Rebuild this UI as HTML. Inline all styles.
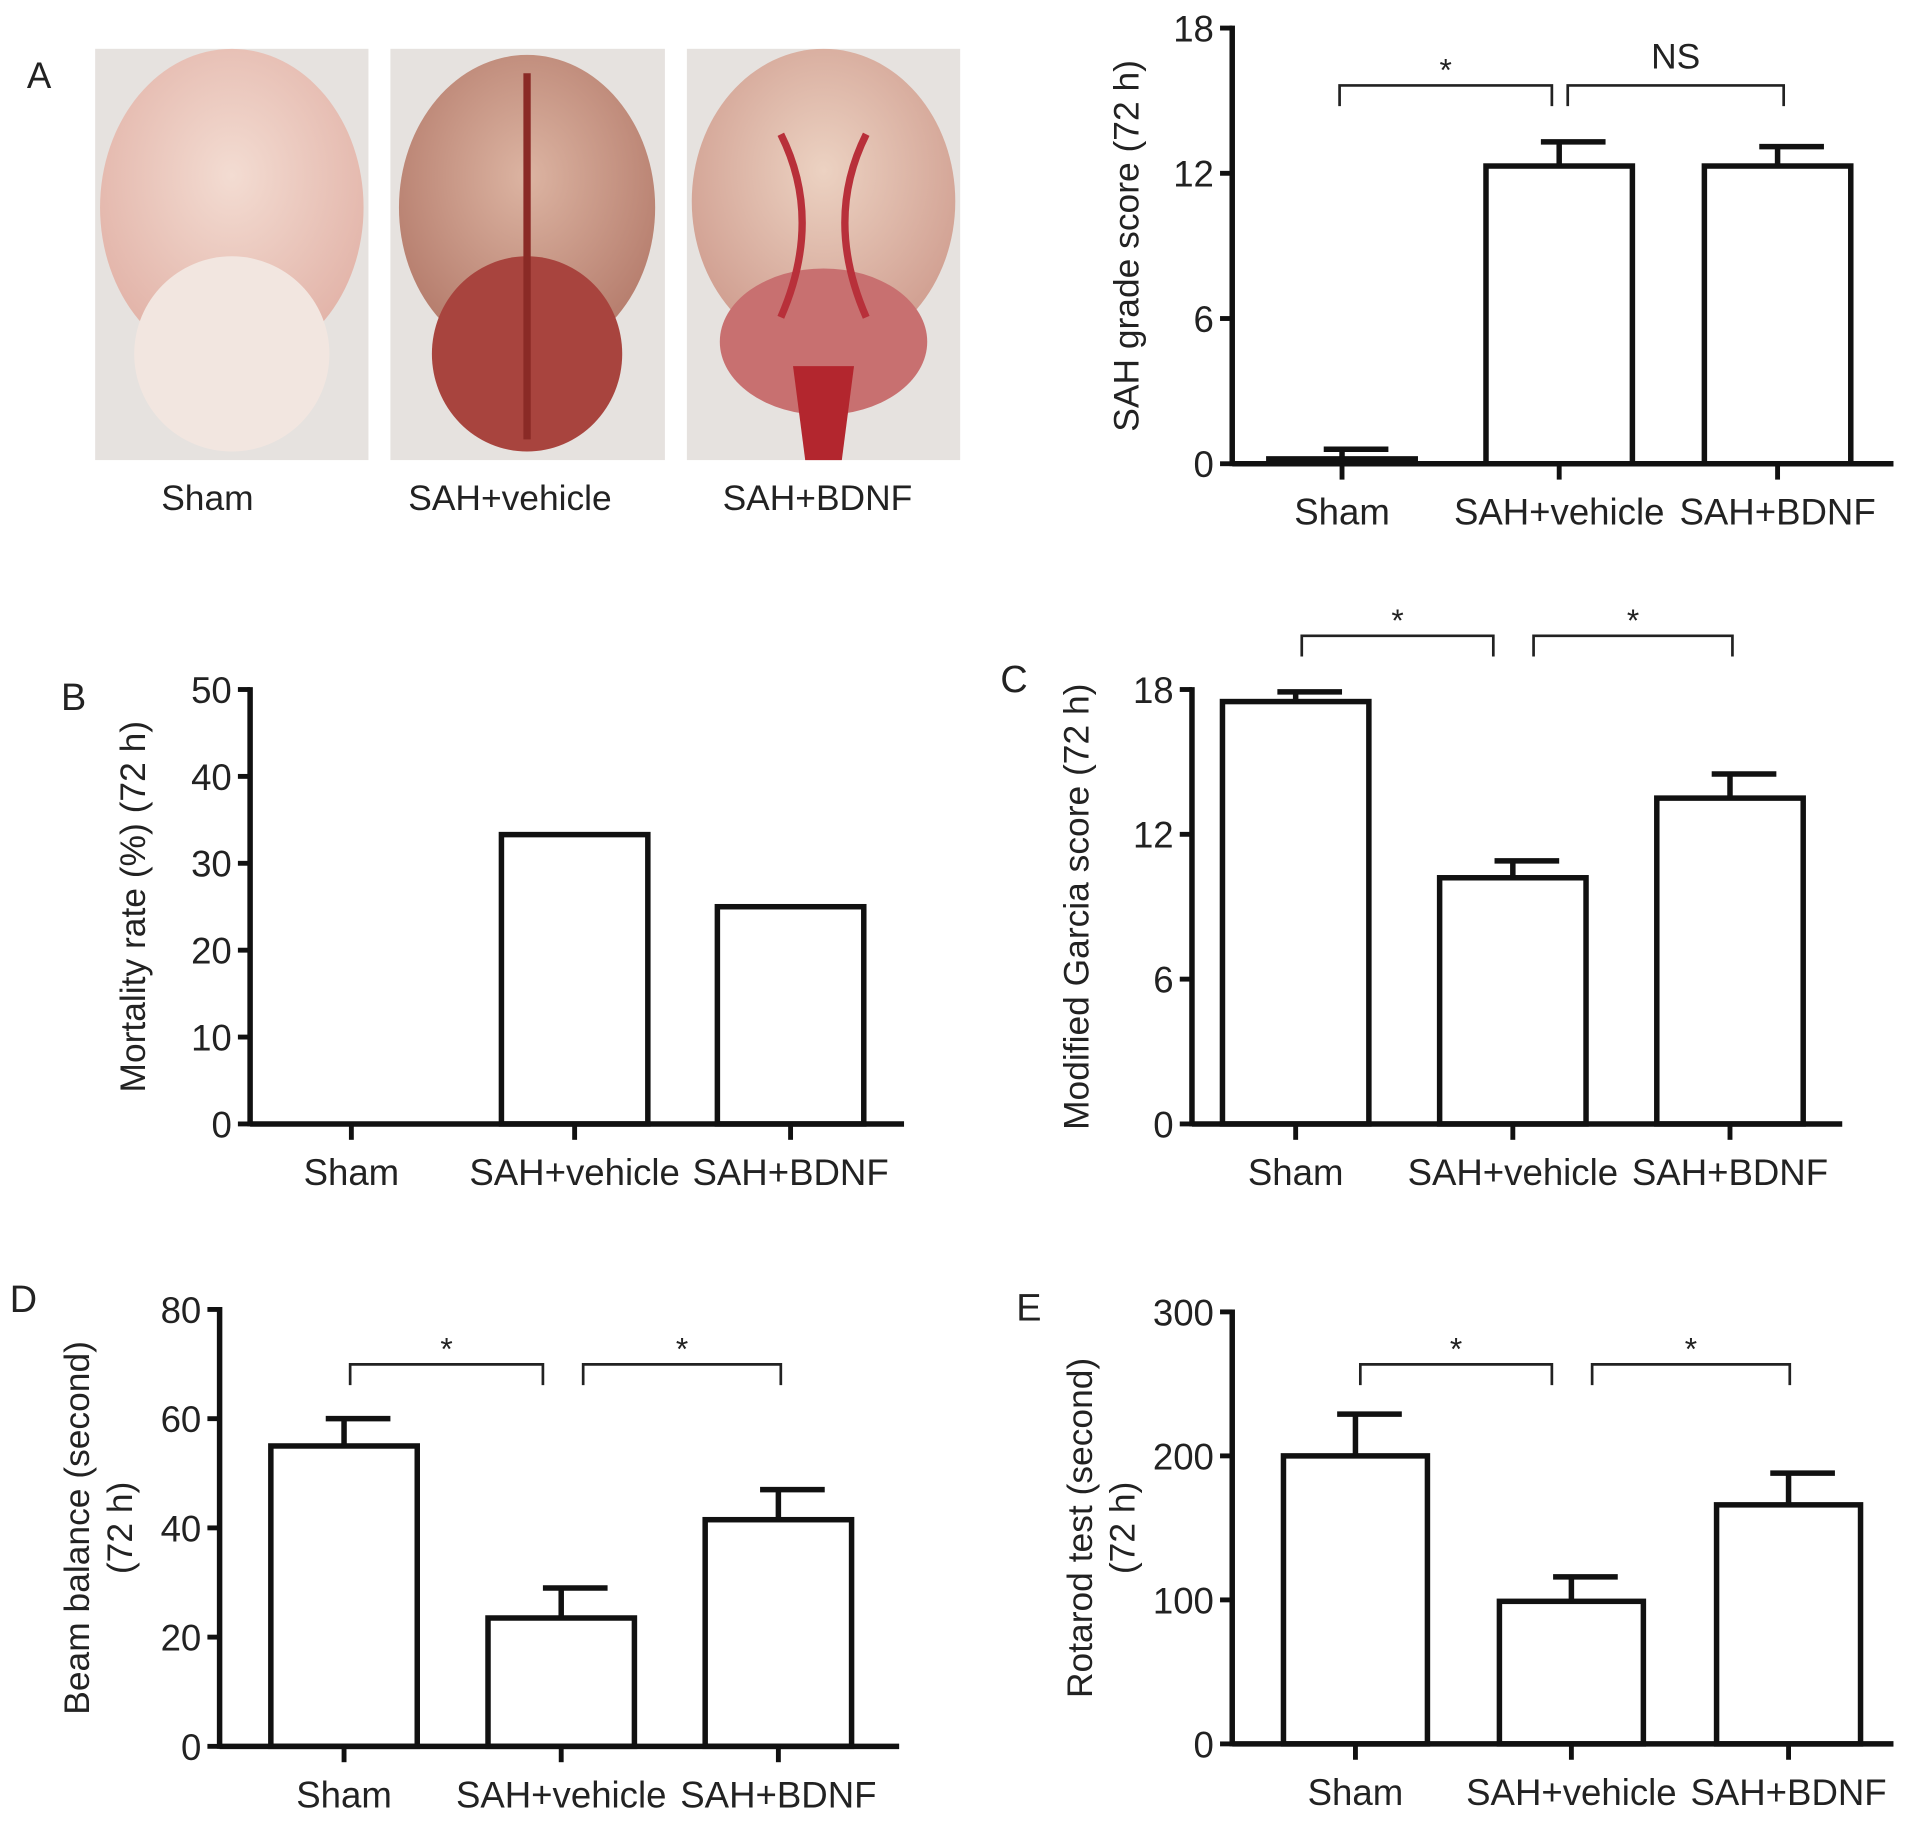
<!DOCTYPE html>
<html><head><meta charset="utf-8"><style>
html,body{margin:0;padding:0;background:#fff;}
svg{display:block;}
text{font-family:"Liberation Sans",Arial,sans-serif;fill:#222;}
</style></head><body>
<svg id="fig" width="1913" height="1822" viewBox="0 0 1568 1493" preserveAspectRatio="none" xmlns="http://www.w3.org/2000/svg">
<defs>
<radialGradient id="g1" cx="50%" cy="40%" r="60%"><stop offset="0" stop-color="#f3dcd2"/><stop offset="1" stop-color="#e2b3a8"/></radialGradient>
<radialGradient id="g2" cx="50%" cy="40%" r="60%"><stop offset="0" stop-color="#dcb4a2"/><stop offset="1" stop-color="#b57c6c"/></radialGradient>
<radialGradient id="g3" cx="50%" cy="40%" r="60%"><stop offset="0" stop-color="#ecd2c2"/><stop offset="1" stop-color="#d09e90"/></radialGradient>
</defs>
<g>
<text x="22" y="72" font-size="30">A</text>
<g>
<rect x="78" y="40" width="224" height="337" fill="#e6e2df"/>
<ellipse cx="190" cy="170" rx="108" ry="130" fill="url(#g1)"/>
<ellipse cx="190" cy="290" rx="80" ry="80" fill="#f2e6e0"/>
</g>
<g>
<rect x="320" y="40" width="225" height="337" fill="#e6e2df"/>
<ellipse cx="432" cy="170" rx="105" ry="125" fill="url(#g2)"/>
<ellipse cx="432" cy="290" rx="78" ry="80" fill="#a8443e"/>
<path d="M432 60 L432 360" stroke="#8a2a26" stroke-width="6"/>
</g>
<g>
<rect x="563" y="40" width="224" height="337" fill="#e6e2df"/>
<ellipse cx="675" cy="165" rx="108" ry="125" fill="url(#g3)"/>
<ellipse cx="675" cy="280" rx="85" ry="60" fill="#c87070"/>
<path d="M650 300 L700 300 L690 377 L660 377 Z" fill="#b3262e"/>
<path d="M640 110 Q675 180 640 260 M710 110 Q675 180 710 260" stroke="#b8303a" stroke-width="6" fill="none"/>
</g>
<text x="170" y="418" font-size="29" text-anchor="middle">Sham</text>
<text x="418" y="418" font-size="29" text-anchor="middle">SAH+vehicle</text>
<text x="670" y="418" font-size="29" text-anchor="middle">SAH+BDNF</text>
</g>
<text x="50" y="582" font-size="31">B</text>
<text x="820" y="567" font-size="31">C</text>
<text x="8" y="1075" font-size="31">D</text>
<text x="833" y="1082" font-size="31">E</text>
</svg>
<script>
const categories = ["Sham", "SAH+vehicle", "SAH+BDNF"];
const gradeValues = [0.2, 12.3, 12.3];
const gradeErrors = [0.6, 13.3, 13.1];
const gradeTicks = [0, 6, 12, 18];
const mortalityValues = [0, 33.3, 25];
const mortalityTicks = [0, 10, 20, 30, 40, 50];
const garciaValues = [17.5, 10.2, 13.5];
const garciaErrors = [17.9, 10.9, 14.5];
const garciaTicks = [0, 6, 12, 18];
const beamValues = [55, 23.5, 41.5];
const beamErrors = [60, 29, 47];
const beamTicks = [0, 20, 40, 60, 80];
const rotarodValues = [200, 99, 166];
const rotarodErrors = [229, 116, 188];
const rotarodTicks = [0, 100, 200, 300];

const NS = "http://www.w3.org/2000/svg";
const svg = document.getElementById("fig");
function mk(tag, attrs, parent, txt) {
  const e = document.createElementNS(NS, tag);
  for (const k in attrs) e.setAttribute(k, attrs[k]);
  if (txt !== undefined) e.textContent = txt;
  (parent || svg).appendChild(e);
  return e;
}

function chart(cfg) {
  const g = mk("g", {});
  
  
  const max = cfg.ticks[cfg.ticks.length - 1];
  const y = v => cfg.y0 - (v / max) * (cfg.y0 - cfg.yTop);
  const x = i => cfg.centers[i];
  cfg.ticks.forEach(t => {
    const tk = mk("line", {x1: cfg.ax - 10, x2: cfg.ax, y1: y(t), y2: y(t), stroke: "#111", "stroke-width": 4}, g);
    
    
    const tl = mk("text", {x: cfg.ax - 15, y: y(t) + 11, "font-size": 30, "text-anchor": "end"}, g, String(t));
    
    
  });
  cfg.values.forEach((v, i) => {
    if (v > 0) {
      const b = mk("rect", {x: x(i) - cfg.bw / 2, y: y(v), width: cfg.bw, height: cfg.y0 - y(v), fill: "#fff", stroke: "#111", "stroke-width": 4.5}, g);
      
      
    }
    if (cfg.errors) {
      const e = cfg.errors[i];
      const el = mk("path", {d: `M${x(i)} ${y(v)} L${x(i)} ${y(e)} M${x(i)-15} ${y(e)} L${x(i)+38} ${y(e)}`, stroke: "#111", "stroke-width": 4.5, fill: "none"}, g);
      
      
    }
  });
  const xa = mk("line", {x1: cfg.ax, x2: cfg.axEnd, y1: cfg.y0, y2: cfg.y0, stroke: "#111", "stroke-width": 4.5}, g);
  
  
  const ya = mk("line", {x1: cfg.ax, x2: cfg.ax, y1: cfg.yTop - 2, y2: cfg.y0 + 2, stroke: "#111", "stroke-width": 4.5}, g);
  
  
  categories.forEach((c, i) => {
    const t = mk("line", {x1: x(i), x2: x(i), y1: cfg.y0, y2: cfg.y0 + 13, stroke: "#111", "stroke-width": 4}, g);
    
    
    const l = mk("text", {x: x(i), y: cfg.y0 + 50, "font-size": 30, "text-anchor": "middle"}, g, c);
    
    
  });
  const cy = (cfg.yTop + cfg.y0) / 2;
  cfg.title.forEach((line, k) => {
    const tx = cfg.titleX + k * 35;
    const t = mk("text", {x: tx, y: cy, "font-size": 29, "text-anchor": "middle", transform: `rotate(-90 ${tx} ${cy})`}, g, line);
    
    
  });
  (cfg.brackets || []).forEach(b => {
    const p = mk("path", {d: `M${b[0]} ${b[2] + 17} L${b[0]} ${b[2]} L${b[1]} ${b[2]} L${b[1]} ${b[2] + 17}`, stroke: "#222", "stroke-width": 2.2, fill: "none"}, g);
    
    
    const s = mk("text", {x: (b[0] + b[1]) / 2, y: b[2] - (b[3] === "NS" ? 14 : 4), "font-size": b[3] === "NS" ? 29 : 26, "text-anchor": "middle"}, g, b[3]);
    
    
  });
}

chart({name: "chart-sah-grade", ax: 1010, axEnd: 1552, yTop: 23, y0: 380, centers: [1100, 1278, 1457], bw: 120,
  ticks: gradeTicks, values: gradeValues, errors: gradeErrors, title: ["SAH grade score (72 h)"], titleX: 933,
  brackets: [[1098, 1272, 70, "*"], [1285, 1462, 70, "NS"]]});
chart({name: "chart-mortality", ax: 205, axEnd: 741, yTop: 565, y0: 921, centers: [288, 471, 648], bw: 120,
  ticks: mortalityTicks, values: mortalityValues, title: ["Mortality rate (%) (72 h)"], titleX: 119});
chart({name: "chart-garcia", ax: 977, axEnd: 1510, yTop: 565, y0: 921, centers: [1062, 1240, 1418], bw: 120,
  ticks: garciaTicks, values: garciaValues, errors: garciaErrors, title: ["Modified Garcia score (72 h)"], titleX: 892,
  brackets: [[1067, 1224, 521, "*"], [1257, 1420, 521, "*"]]});
chart({name: "chart-beam-balance", ax: 180, axEnd: 737, yTop: 1073, y0: 1431, centers: [282, 460, 638], bw: 120,
  ticks: beamTicks, values: beamValues, errors: beamErrors, title: ["Beam balance (second)", "(72 h)"], titleX: 73,
  brackets: [[287, 445, 1118, "*"], [478, 640, 1118, "*"]]});
chart({name: "chart-rotarod", ax: 1010, axEnd: 1552, yTop: 1075, y0: 1429, centers: [1111, 1288, 1466], bw: 118,
  ticks: rotarodTicks, values: rotarodValues, errors: rotarodErrors, title: ["Rotarod test (second)", "(72 h)"], titleX: 895,
  brackets: [[1115, 1272, 1118, "*"], [1305, 1467, 1118, "*"]]});
</script>
</body></html>
